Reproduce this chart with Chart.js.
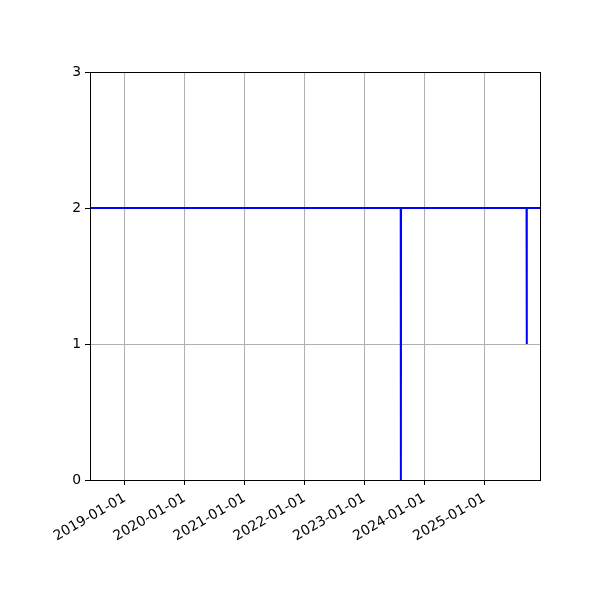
<!DOCTYPE html>
<html>
<head>
<meta charset="utf-8">
<script src="https://cdn.jsdelivr.net/npm/chart.js@4/dist/chart.umd.min.js"></script>
<style>
html,body{margin:0;padding:0;background:#fff;}
#c{display:block;}
</style>
</head>
<body>
<canvas id="c" width="600" height="600"></canvas>
<script>
// Data
const dates = ['2018-06-03','2023-08-10','2023-08-11','2023-08-12','2025-09-15','2025-09-16','2025-09-17','2025-12-06'];
const values = [2, 2, 0, 2, 2, 1, 2, 2];
const xTickLabels = ['2019-01-01','2020-01-01','2021-01-01','2022-01-01','2023-01-01','2024-01-01','2025-01-01'];
const yTicks = [0, 1, 2, 3];
const xMin = '2018-06-03';
const xMax = '2025-12-06';

function toMs(s){ const p = s.split('-').map(Number); return Date.UTC(p[0], p[1]-1, p[2]); }
function fmt(ms){ const d = new Date(ms); const m = String(d.getUTCMonth()+1).padStart(2,'0'); const dd = String(d.getUTCDate()).padStart(2,'0'); return d.getUTCFullYear()+'-'+m+'-'+dd; }

const points = dates.map((d,i)=>({x: toMs(d), y: values[i]}));

const boxPlugin = {
  id: 'box',
  afterDraw(chart){
    const a = chart.chartArea, ctx = chart.ctx;
    ctx.save();
    ctx.strokeStyle = '#000';
    ctx.lineWidth = 1;
    ctx.strokeRect(Math.round(a.left)+0.5, Math.round(a.top)+0.5, Math.round(a.right-a.left), Math.round(a.bottom-a.top));
    ctx.restore();
  }
};

const font = {family: 'DejaVu Sans', size: 13.9};

new Chart(document.getElementById('c'), {
  type: 'line',
  data: {
    datasets: [{
      data: points,
      borderColor: '#0000ff',
      borderWidth: 2,
      pointRadius: 0,
      tension: 0,
      fill: false
    }]
  },
  options: {
    responsive: false,
    animation: false,
    devicePixelRatio: 1,
    layout: {padding: {top: 72, right: 60, left: 0, bottom: 0}},
    plugins: {legend: {display: false}, tooltip: {enabled: false}},
    scales: {
      x: {
        type: 'linear',
        min: toMs(xMin),
        max: toMs(xMax),
        afterBuildTicks(scale){ scale.ticks = xTickLabels.map(s=>({value: toMs(s)})); },
        afterFit(scale){ scale.height = 120; },
        grid: {color: '#b0b0b0', lineWidth: 1, tickColor: '#000', tickLength: 5, drawTicks: true},
        border: {color: '#000', width: 1},
        ticks: {
          autoSkip: false, minRotation: 30, maxRotation: 30,
          color: '#000', font: font, padding: 5,
          callback: (v)=>fmt(v)
        }
      },
      y: {
        type: 'linear',
        min: 0, max: 3,
        afterBuildTicks(scale){ scale.ticks = yTicks.map(v=>({value: v})); },
        afterFit(scale){ scale.width = 90; },
        grid: {color: '#b0b0b0', lineWidth: 1, tickColor: '#000', tickLength: 5, drawTicks: true},
        border: {color: '#000', width: 1},
        ticks: {color: '#000', font: font, padding: 4, callback: (v)=>String(v)}
      }
    }
  },
  plugins: [boxPlugin]
});
</script>
</body>
</html>
